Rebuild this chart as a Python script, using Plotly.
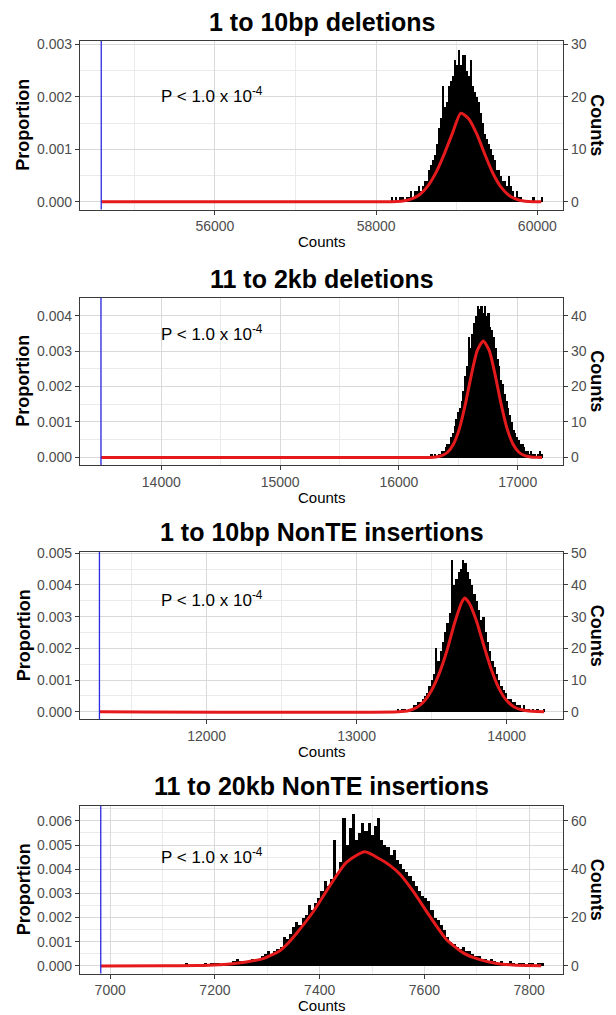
import numpy as np
import plotly.graph_objects as go

# ---------------- data ----------------
titles = ["1 to 10bp deletions", "11 to 2kb deletions",
          "1 to 10bp NonTE insertions", "11 to 20kb NonTE insertions"]
observed = [54590, 13492, 11285, 6982]
p_text = "P &lt; 1.0 x 10<sup>-4</sup>"

# histogram envelopes: first bin centre, bin width, counts
hist1_start, hist1_bin = 58200, 25
hist1_counts = [1, 0, 1, 0, 1, 1, 0, 1, 1, 2,
                1, 2, 2, 3, 2, 3, 4, 4, 6, 7,
                8, 9, 11, 14, 16, 22, 18, 19, 22, 23,
                24, 27, 26, 29, 26, 28, 28, 25, 24, 27,
                22, 21, 20, 19, 17, 15, 13, 12, 11, 10,
                9, 8, 6, 6, 5, 4, 4, 3, 5, 3,
                2, 1, 2, 1, 1, 0, 0, 0, 0, 0,
                1, 0, 0, 0, 1]

hist2_start, hist2_bin = 16275, 15
hist2_counts = [1, 0, 1, 0, 1, 1, 2, 2, 3, 4,
                4, 6, 7, 9, 11, 13, 14, 16, 19, 23,
                26, 34, 31, 35, 38, 40, 43, 42, 43, 41,
                43, 40, 41, 37, 36, 34, 31, 28, 26, 22,
                21, 18, 16, 14, 12, 10, 8, 7, 6, 5,
                4, 4, 3, 2, 2, 1, 2, 1, 1, 0,
                1, 2, 1]

hist3_start, hist3_bin = 13275, 15
hist3_counts = [1, 0, 1, 1, 0, 1, 1, 2, 2, 3,
                3, 4, 5, 6, 8, 10, 12, 20, 16, 19,
                22, 25, 28, 31, 48, 40, 42, 44, 45, 48,
                47, 44, 42, 40, 37, 35, 32, 29, 30, 25,
                22, 19, 16, 14, 12, 10, 8, 7, 6, 4,
                4, 3, 3, 2, 2, 1, 2, 1, 1, 0,
                1, 0, 1, 0, 0, 1]

hist4_start, hist4_bin = 7140, 6
hist4_counts = [0, 1, 0, 0, 0, 0, 0, 1, 0, 1,
                1, 1, 0, 1, 1, 1, 2, 3, 2, 1,
                2, 2, 3, 2, 3, 4, 5, 6, 4, 6,
                7, 8, 12, 11, 13, 16, 18, 17, 20, 21,
                25, 23, 26, 28, 31, 35, 33, 36, 52, 38,
                43, 61, 50, 57, 63, 52, 55, 59, 56, 59,
                54, 58, 61, 52, 50, 49, 46, 48, 44, 42,
                40, 39, 37, 35, 33, 31, 29, 28, 27, 23,
                20, 19, 17, 15, 12, 10, 9, 8, 7, 8,
                6, 6, 5, 4, 4, 3, 3, 2, 3, 2,
                1, 2, 1, 1, 2, 1, 0, 1, 1, 0,
                1, 1, 0, 1, 1]

# density curves (proportion)
dens1_x = [54590, 58150, 58250, 58350, 58450, 58550, 58650, 58750, 58850, 58950, 59050,
           59150, 59250, 59350, 59450, 59550, 59650, 59750, 59850, 59950, 60050]
dens1_y = [0, 0, 0.000005, 0.00002, 0.00006, 0.00015, 0.00032, 0.00058, 0.00093, 0.00132, 0.00169,
           0.00158, 0.00129, 0.00090, 0.00054, 0.00028, 0.00012, 0.000045, 0.000012, 0.000002, 0]

dens2_x = [13492, 16260, 16310, 16360, 16410, 16460, 16510, 16560, 16610, 16660, 16710,
           16760, 16810, 16860, 16910, 16960, 17010, 17060, 17110, 17160, 17205]
dens2_y = [0, 0, 0.000013, 0.000047, 0.000145, 0.00038, 0.00082, 0.00151, 0.00233, 0.00302, 0.00329,
           0.00302, 0.00233, 0.00151, 0.00082, 0.00038, 0.000145, 0.000047, 0.000013, 0.000002, 0]

dens3_x = [11285, 13275, 13350, 13400, 13450, 13500, 13550, 13600, 13650, 13700, 13720,
           13750, 13800, 13850, 13900, 13950, 14000, 14050, 14100, 14150, 14200, 14250]
dens3_y = [0, 0, 0.00004, 0.00013, 0.00033, 0.00068, 0.00120, 0.00190, 0.00275, 0.00345, 0.00359,
           0.00343, 0.00285, 0.00205, 0.00130, 0.00072, 0.00035, 0.00015, 0.00006, 0.00002, 0.000005, 0]

dens4_x = [6982, 7100, 7165, 7197, 7229, 7260, 7292, 7324, 7340, 7356, 7388, 7419, 7451,
           7486, 7515, 7534, 7553, 7578, 7610, 7642, 7674, 7706, 7738, 7769, 7823]
dens4_y = [0, 0.000005, 0.000015, 0.00004, 0.00008, 0.00016, 0.00030, 0.00063, 0.00095, 0.00135,
           0.00225, 0.00330, 0.00428, 0.00472, 0.00442, 0.00416, 0.00380, 0.00310, 0.00206,
           0.00109, 0.00054, 0.00026, 0.00010, 0.00004, 0.00001]

hists = [(hist1_start, hist1_bin, hist1_counts), (hist2_start, hist2_bin, hist2_counts),
         (hist3_start, hist3_bin, hist3_counts), (hist4_start, hist4_bin, hist4_counts)]
denss = [(dens1_x, dens1_y), (dens2_x, dens2_y), (dens3_x, dens3_y), (dens4_x, dens4_y)]

# ---------------- layout settings ----------------
W, H = 616, 1015
FONT = "Liberation Sans, Arial, sans-serif"
x_left_px, x_right_px = 79.8, 563.2
panel_top = [41, 297.5, 552, 806]
panel_bot = [209.5, 465, 719.3, 973.5]
x_ranges = [[54324, 60321], [13314, 17383], [11154, 14377], [6942, 7865]]
x_dtick = [2000, 1000, 1000, 200]
y_ranges = [[-0.000146, 0.003066], [-0.000215, 0.004515], [-0.00024, 0.00504], [-0.000315, 0.006615]]
y2_dtick = [10, 10, 10, 20]
title_px = [22, 278.5, 531.5, 786]
p_px = [95, 333, 599, 856]

def py(px):
    return 1 - px / H

fig = go.Figure()
annotations = []
shapes = []
tickfont = dict(family=FONT, size=14, color="#4D4D4D")
line_col = "#3A3A3A"
grid_major = "#D9D9D9"
grid_minor = "#EAEAEA"

for i in range(4):
    n = i + 1
    xa = "x" if n == 1 else f"x{n}"
    ya = "y" if n == 1 else f"y{n}"
    yr = f"y{n + 4}"
    start, bw, counts = hists[i]
    counts = np.array(counts, dtype=float)
    centers = start + bw * np.arange(len(counts))
    fig.add_trace(go.Bar(x=centers, y=counts / 10000.0, width=bw,
                         marker=dict(color="black", line=dict(width=0)),
                         xaxis=xa, yaxis=ya, showlegend=False, hoverinfo="skip"))
    dx, dy = denss[i]
    fig.add_trace(go.Scatter(x=dx, y=dy, mode="lines",
                             line=dict(color="#E41A1C", width=3, shape="spline", smoothing=0.6),
                             xaxis=xa, yaxis=ya, showlegend=False, hoverinfo="skip"))
    # invisible anchor for the counts axis
    fig.add_trace(go.Scatter(x=[x_ranges[i][0]], y=[0], mode="markers",
                             marker=dict(opacity=0), xaxis=xa, yaxis=yr,
                             showlegend=False, hoverinfo="skip"))
    shapes.append(dict(type="line", xref=xa, yref=f"{ya} domain", x0=observed[i], x1=observed[i],
                       y0=0, y1=1, line=dict(color="#2A2AE0", width=1.3), layer="above"))

    xdom = [x_left_px / W, x_right_px / W]
    ydom = [py(panel_bot[i]), py(panel_top[i])]
    key_x = "xaxis" if n == 1 else f"xaxis{n}"
    key_y = "yaxis" if n == 1 else f"yaxis{n}"
    fig.layout[key_x] = dict(domain=xdom, anchor=ya, range=x_ranges[i], dtick=x_dtick[i],
                             tick0=0, tickformat="d", ticks="outside", ticklen=4,
                             tickcolor=line_col, tickwidth=1, tickfont=tickfont,
                             showline=True, linecolor=line_col, linewidth=1, mirror=True,
                             showgrid=True, gridcolor=grid_major, gridwidth=1, zeroline=False,
                             minor=dict(dtick=x_dtick[i] / 2, tick0=0, showgrid=True,
                                        gridcolor=grid_minor, gridwidth=0.8),
                             automargin=False)
    fig.layout[key_y] = dict(domain=ydom, anchor=xa, range=y_ranges[i], dtick=0.001, tick0=0,
                             tickformat=".3f", ticks="outside", ticklen=4, tickcolor=line_col,
                             tickwidth=1, tickfont=tickfont, showline=True, linecolor=line_col,
                             linewidth=1, mirror=True, showgrid=True, gridcolor=grid_major,
                             gridwidth=1, zeroline=False,
                             minor=dict(dtick=0.0005, tick0=0, showgrid=True,
                                        gridcolor=grid_minor, gridwidth=0.8),
                             automargin=False)
    fig.layout[f"yaxis{n + 4}"] = dict(overlaying=ya, anchor=xa, side="right",
                                       range=[v * 10000 for v in y_ranges[i]], dtick=y2_dtick[i],
                                       tick0=0, tickformat="d", ticks="outside", ticklen=4,
                                       tickcolor=line_col, tickwidth=1, tickfont=tickfont,
                                       showgrid=False, zeroline=False, showline=False,
                                       automargin=False)

    xc = (x_left_px + x_right_px) / 2 / W
    ymid = py((panel_top[i] + panel_bot[i]) / 2)
    annotations += [
        dict(text=f"<b>{titles[i]}</b>", x=xc, y=py(title_px[i]), xref="paper", yref="paper",
             xanchor="center", yanchor="middle", showarrow=False,
             font=dict(family=FONT, size=25, color="black")),
        dict(text="<b>Proportion</b>", x=23.5 / W, y=ymid, xref="paper", yref="paper",
             xanchor="center", yanchor="middle", textangle=-90, showarrow=False,
             font=dict(family=FONT, size=18, color="black")),
        dict(text="<b>Counts</b>", x=597 / W, y=ymid, xref="paper", yref="paper",
             xanchor="center", yanchor="middle", textangle=90, showarrow=False,
             font=dict(family=FONT, size=18, color="black")),
        dict(text="Counts", x=xc, y=py(panel_bot[i] + 32), xref="paper", yref="paper",
             xanchor="center", yanchor="middle", showarrow=False,
             font=dict(family=FONT, size=15, color="black")),
        dict(text=p_text, x=159 / W, y=py(p_px[i]), xref="paper", yref="paper",
             xanchor="left", yanchor="middle", showarrow=False,
             font=dict(family=FONT, size=17, color="black")),
    ]

fig.update_layout(width=W, height=H, margin=dict(l=0, r=0, t=0, b=0),
                  paper_bgcolor="white", plot_bgcolor="white", showlegend=False,
                  bargap=0, annotations=annotations, shapes=shapes)

fig.write_html("out.html")
